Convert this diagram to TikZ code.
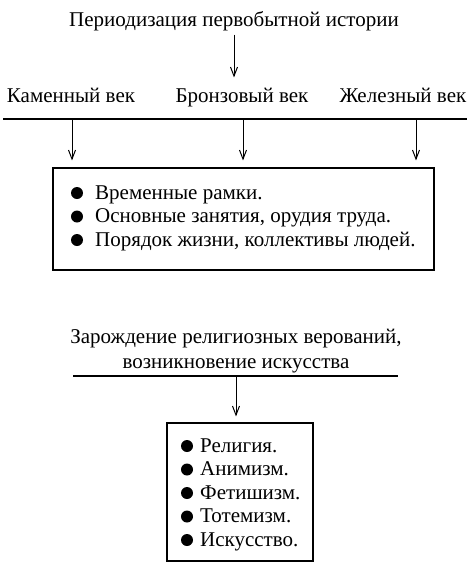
\documentclass[tikz,border=0pt]{standalone}
\usepackage{fontspec}
\setmainfont{Liberation Serif}
\usetikzlibrary{arrows.meta}
\tikzset{
    heading/.style={font=\fontsize{21}{24}\selectfont, inner sep=0pt},
    era/.style={font=\fontsize{21}{24}\selectfont, inner sep=0pt, anchor=base},
    entry/.style={font=\fontsize{21}{24}\selectfont, inner sep=0pt, anchor=base west},
    listbox/.style={draw=black, line width=1.2pt, inner sep=0pt},
    rule/.style={draw=black, line width=1.2pt},
    pointer/.style={draw=black, line width=1pt, -{Straight Barb[length=9pt,width=7pt]}}
}

\begin{document}
\begin{tikzpicture}[x=1pt, y=-1pt]
    \useasboundingbox (0,0) rectangle (474,566);
    % upper part: periods
    \node[heading, anchor=base] (title) at (234,26) {Периодизация первобытной истории};
    \node[era] (kamen) at (71,102) {Каменный век};
    \node[era] (bronze) at (242,102) {Бронзовый век};
    \node[era] (zhelez) at (403,102) {Железный век};
    \draw[pointer, shorten <=4pt, shorten >=10pt] (title.south) -- (title |- bronze.north);
    \coordinate (lineL) at (3,119);
    \coordinate (lineR) at (467,119);
    \draw[rule] (lineL) -- (lineR);
    \node[listbox, minimum width=381pt, minimum height=102pt] (periods) at (243.5,219) {};
    \coordinate (kamenA) at (72,119);
    \coordinate (bronzeA) at (243,119);
    \coordinate (zhelezA) at (416,119);
    \foreach \a in {kamenA, bronzeA, zhelezA}
        \draw[pointer, shorten >=7pt] (\a) -- (\a |- periods.north);
    \foreach \txt [count=\i] in {Временные рамки., {Основные занятия, орудия труда.}, {Порядок жизни, коллективы людей.}} {
        \node[entry] (period\i) at (95, 175.5+23.5*\i) {\txt};
        \fill (77, 169.5+23.5*\i) circle (6pt);
    }
    % lower part: religion and art
    \node[heading, align=center] (relig) at (236,351) {Зарождение религиозных верований,\\[1pt]возникновение искусства};
    \coordinate (religL) at (73,376);
    \coordinate (religR) at (398,376);
    \draw[rule] (religL) -- (religR);
    \node[listbox, minimum width=146pt, minimum height=138pt] (kinds) at (240,492) {};
    \coordinate (religA) at (236,376);
    \draw[pointer, shorten >=6pt] (religA) -- (religA |- kinds.north);
    \foreach \txt [count=\i] in {Религия., Анимизм., Фетишизм., Тотемизм., Искусство.} {
        \node[entry] (kind\i) at (200, 428.5+23.5*\i) {\txt};
        \fill (187, 422.5+23.5*\i) circle (6pt);
    }
\end{tikzpicture}
\end{document}
